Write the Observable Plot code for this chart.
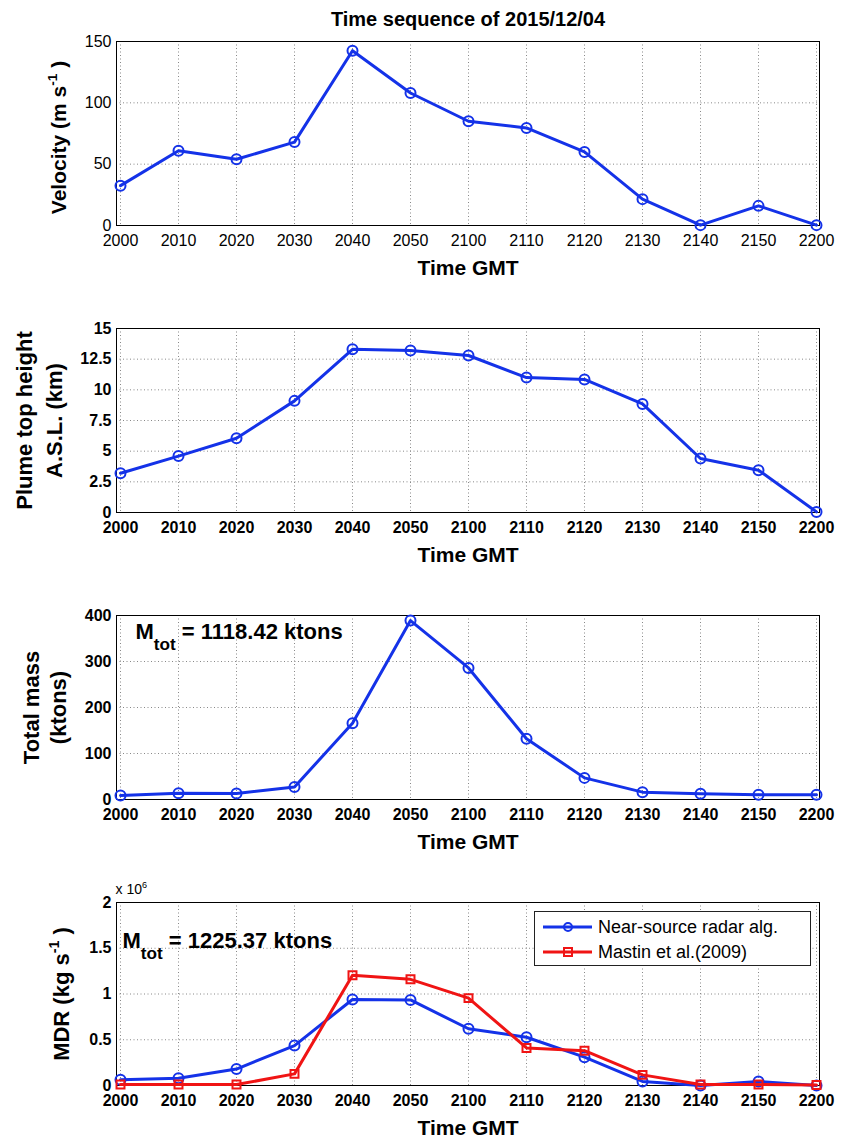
<!DOCTYPE html>
<html><head><meta charset="utf-8">
<script src="https://cdn.jsdelivr.net/npm/d3@7"></script>
<script src="https://cdn.jsdelivr.net/npm/@observablehq/plot@0.6"></script>
<style>
body{margin:0;background:#fff;font-family:"Liberation Sans",Arial,sans-serif;}
#wrap{position:relative;width:842px;height:1138px;overflow:hidden;}
.panel{position:absolute;left:0;}
#legend{position:absolute;left:534px;top:911px;width:277px;height:55px;border:1px solid #222;background:#fff;box-sizing:border-box;}
#legend .row{position:absolute;left:0;height:24px;display:flex;align-items:center;}
#legend span{font-size:18px;color:#000;margin-left:5px;}
</style></head><body><div id="wrap"></div>
<script>
const times = ["2000","2010","2020","2030","2040","2050","2100","2110","2120","2130","2140","2150","2200"];
const velocity = [32.5, 61, 54, 68, 142.5, 108, 85, 79.5, 60, 21.5, 0.3, 16, 0.3];
const plumeHeight = [3.2, 4.6, 6.05, 9.1, 13.3, 13.2, 12.8, 11.0, 10.85, 8.85, 4.4, 3.45, 0.05];
const totalMass = [8.7, 13.8, 13, 27, 166, 389, 286, 132, 47, 16, 12.4, 10.2, 10.2];
const mdrRadar = [0.062, 0.08, 0.18, 0.436, 0.94, 0.935, 0.62, 0.527, 0.31, 0.044, 0.0, 0.044, 0.0];
const mdrMastin = [0.01, 0.01, 0.01, 0.127, 1.205, 1.16, 0.955, 0.41, 0.38, 0.116, 0.01, 0.01, 0.005];
const velTicks = [0, 50, 100, 150];
const heightTicks = [0, 2.5, 5, 7.5, 10, 12.5, 15];
const massTicks = [0, 100, 200, 300, 400];
const mdrTicks = [0, 0.5, 1, 1.5, 2];
const seriesNames = ["Near-source radar alg.", "Mastin et al.(2009)"];
const BLUE = "#1432e8", RED = "#f01414";

const wrap = document.getElementById("wrap");

// replace ^{..} and _{..} with tspans
function richify(svg, sizes) {
  d3.select(svg).selectAll("text").each(function () {
    const t = this;
    if (t.querySelector("tspan")) return;
    const s = t.textContent;
    if (!/[\^_]\{/.test(s)) return;
    const parts = s.split(/([\^_]\{[^}]*\})/).filter(p => p.length);
    const fs = sizes[s] || 16;
    t.textContent = "";
    const sel = d3.select(t);
    let off = 0;
    for (const p of parts) {
      if (p.startsWith("^{") || p.startsWith("_{")) {
        const sup = p[0] === "^";
        const sh = sup ? -0.42 * fs : 0.48 * fs;
        sel.append("tspan").attr("dy", sh - off).attr("font-size", (sup ? 0.65 : 0.78) * fs).text(p.slice(2, -1));
        off = sh;
      } else {
        sel.append("tspan").attr("dy", -off).text(p);
        off = 0;
      }
    }
  });
}

function panel(o) {
  const sizes = {};
  sizes[o.yLabel] = o.labelSize || 22;
  const marks = [
    Plot.gridX(times, {stroke: "#888", strokeOpacity: 1, strokeDasharray: "1,2.5"}),
    Plot.gridY(o.ticks, {stroke: "#888", strokeOpacity: 1, strokeDasharray: "1,2.5"}),
    Plot.frame({stroke: "#000", strokeWidth: 1}),
    Plot.axisX({tickSize: 0, tickPadding: 9, fontSize: 16, fontWeight: o.bold ? "bold" : "normal", label: null}),
    Plot.axisY(o.ticks, {tickSize: 0, tickPadding: 5, fontSize: 16, fontWeight: o.bold ? "bold" : "normal", label: null, tickFormat: d => String(d)}),
    Plot.text(["Time GMT"], {frameAnchor: "bottom", dy: 43, lineAnchor: "middle", fontSize: 21, fontWeight: "bold"}),
    Plot.text([o.yLabel], {frameAnchor: "left", rotate: -90, dx: o.labelDx, dy: o.labelDy || 0, textAnchor: "middle", lineAnchor: "middle", fontSize: o.labelSize || 22, fontWeight: "bold", lineHeight: o.lineHeight || 1.3})
  ];
  for (const s of o.series) {
    const data = times.map((t, i) => ({t, v: s.values[i]}));
    marks.push(Plot.line(data, {x: "t", y: "v", stroke: s.color, strokeWidth: 3}));
    marks.push(Plot.dot(data, {x: "t", y: "v", stroke: s.color, strokeWidth: 2, fill: "none", r: s.symbol === "square" ? 4.5 : 5, symbol: s.symbol || "circle"}));
  }
  if (o.extra) for (const [txt, opts] of o.extra) {
    sizes[txt] = opts.fontSize;
    marks.push(Plot.text([txt], opts));
  }
  const svg = Plot.plot({
    width: 842, height: o.height,
    marginLeft: 116, marginRight: 23, marginTop: o.mt, marginBottom: o.height - o.mt - o.ph,
    style: {fontFamily: "'Liberation Sans', Arial, sans-serif", color: "#000", background: "transparent", overflow: "visible"},
    x: {type: "point", domain: times, padding: 0},
    y: {domain: o.domain},
    marks
  });
  svg.classList.add("panel");
  svg.style.top = o.top + "px";
  richify(svg, sizes);
  wrap.appendChild(svg);
}

panel({
  top: 0, height: 290, mt: 41, ph: 184, domain: [0, 150], ticks: velTicks, bold: false,
  yLabel: "Velocity (m s^{-1} )", labelDx: -59, labelDy: 4, labelSize: 21,
  series: [{values: velocity, color: BLUE}],
  extra: [["Time sequence of 2015/12/04", {frameAnchor: "top", dy: -22, lineAnchor: "middle", fontSize: 20, fontWeight: "bold"}]]
});
panel({
  top: 290, height: 290, mt: 38, ph: 184, domain: [0, 15], ticks: heightTicks, bold: true,
  yLabel: "Plume top height\nA.S.L. (km)", labelDx: -79, lineHeight: 1.36,
  series: [{values: plumeHeight, color: BLUE}]
});
panel({
  top: 580, height: 290, mt: 35, ph: 184, domain: [0, 400], ticks: massTicks, bold: true,
  yLabel: "Total mass\n(ktons)", labelDx: -73, lineHeight: 1.25,
  series: [{values: totalMass, color: BLUE}],
  extra: [["M_{tot} = 1118.42 ktons", {frameAnchor: "top-left", dx: 19, dy: 8, lineAnchor: "top", fontSize: 22, fontWeight: "bold"}]]
});
panel({
  top: 870, height: 268, mt: 32, ph: 183, domain: [0, 2], ticks: mdrTicks, bold: true,
  yLabel: "MDR (kg s^{-1} )", labelDx: -57,
  series: [{values: mdrRadar, color: BLUE}, {values: mdrMastin, color: RED, symbol: "square"}],
  extra: [
    ["M_{tot} = 1225.37 ktons", {frameAnchor: "top-left", dx: 6, dy: 30, lineAnchor: "top", fontSize: 22, fontWeight: "bold"}],
    ["x 10^{6}", {frameAnchor: "top-left", dx: -1, dy: -9, lineAnchor: "bottom", fontSize: 14}]
  ]
});

// legend
const leg = d3.select(wrap).append("div").attr("id", "legend");
[[seriesNames[0], BLUE, "circle", 3], [seriesNames[1], RED, "square", 28]].forEach(([name, col, sym, y]) => {
  const row = leg.append("div").attr("class", "row").style("top", y + "px").style("left", "8px");
  const s = row.append("svg").attr("width", 50).attr("height", 24);
  s.append("line").attr("x1", 0).attr("x2", 49).attr("y1", 12).attr("y2", 12).attr("stroke", col).attr("stroke-width", 3);
  if (sym === "circle") s.append("circle").attr("cx", 25).attr("cy", 12).attr("r", 4).attr("fill", "none").attr("stroke", col).attr("stroke-width", 2);
  else s.append("rect").attr("x", 21).attr("y", 8).attr("width", 8).attr("height", 8).attr("fill", "none").attr("stroke", col).attr("stroke-width", 2);
  row.append("span").text(name);
});
</script></body></html>
